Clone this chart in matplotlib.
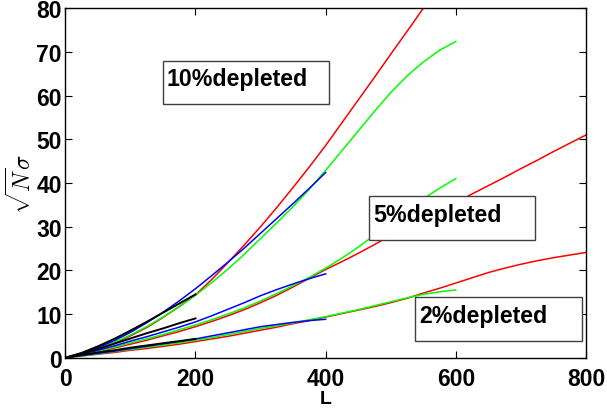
import matplotlib

matplotlib.use("Agg")
import matplotlib.pyplot as plt
from matplotlib.patches import Rectangle

plt.rcParams["font.family"] = ["Liberation Sans", "DejaVu Sans"]
plt.rcParams["mathtext.fontset"] = "cm"

# system size L, sampled every 25
L = list(range(0, 801, 25))

# 10% depleted
red_10 = [0, 0.8, 1.9, 3.3, 5.0, 6.9, 9.2, 11.7, 14.4, 17.9, 21.8, 25.8, 30.0,
          34.4, 39.0, 43.7, 48.6, 53.8, 59.0, 64.2, 69.5, 74.7, 80.0]
green_10 = [0, 0.8, 2.0, 3.5, 5.2, 7.1, 9.3, 11.7, 14.3, 17.2, 20.3, 23.7, 27.3,
            30.9, 34.6, 38.6, 42.9, 47.4, 51.9, 56.4, 60.7, 64.5, 67.7, 70.4, 72.4]
blue_10 = [0, 1.0, 2.3, 3.9, 5.8, 8.0, 10.4, 13.0, 15.8, 18.8, 21.9, 25.1, 28.5,
           31.9, 35.3, 38.8, 42.4]
black_10 = [0, 1.1, 2.6, 4.3, 6.2, 8.2, 10.3, 12.4, 14.5]

# 5% depleted
red_5 = [0, 0.6, 1.3, 2.2, 3.1, 4.0, 5.0, 6.0, 7.1, 8.3, 9.6, 11.0, 12.6, 14.3,
         16.2, 18.2, 20.2, 22.0, 23.9, 25.9, 28.0, 29.9, 31.8, 33.6, 35.5, 37.5,
         39.4, 41.3, 43.3, 45.2, 47.2, 49.1, 51.0]
green_5 = [0, 0.7, 1.5, 2.4, 3.4, 4.3, 5.3, 6.4, 7.5, 8.7, 10.0, 11.4, 13.0, 14.7,
           16.5, 18.4, 20.5, 22.8, 25.3, 28.1, 31.0, 33.8, 36.4, 38.8, 41.0]
blue_5 = [0, 0.8, 1.7, 2.7, 3.8, 4.8, 5.9, 7.0, 8.2, 9.6, 11.1, 12.6, 14.2, 15.6,
          16.9, 18.1, 19.2]
black_5 = [0, 0.9, 2.0, 3.2, 4.4, 5.6, 6.7, 7.9, 9.0]

# 2% depleted
red_2 = [0, 0.4, 0.8, 1.2, 1.7, 2.1, 2.6, 3.1, 3.7, 4.3, 4.9, 5.6, 6.3, 7.0, 7.8,
         8.5, 9.3, 10.1, 10.9, 11.7, 12.6, 13.6, 14.8, 15.9, 17.1, 18.3, 19.5,
         20.5, 21.4, 22.2, 22.9, 23.5, 24.1]
green_2 = [0, 0.4, 0.9, 1.4, 1.9, 2.4, 2.9, 3.4, 4.0, 4.6, 5.3, 6.0, 6.7, 7.3, 8.0,
           8.7, 9.4, 10.2, 11.0, 11.9, 12.8, 13.7, 14.5, 15.1, 15.5]
blue_2 = [0, 0.5, 1.0, 1.5, 2.1, 2.6, 3.2, 3.7, 4.3, 5.0, 5.7, 6.4, 7.1, 7.6, 8.1,
          8.5, 8.8]
black_2 = [0, 0.6, 1.2, 1.7, 2.3, 2.8, 3.3, 3.8, 4.3]

labels = ["10%depleted", "5%depleted", "2%depleted"]
# label boxes (x0, y0, x1, y1) in data units, and text anchor
boxes = [(150.6, 58.0, 405.6, 68.0), (467.0, 26.9, 721.6, 37.1), (537.3, 3.8, 793.4, 14.0)]
text_pos = [(155.8, 62.4), (473.2, 31.4), (543.9, 8.1)]

groups = [
    (red_10, green_10, blue_10, black_10),
    (red_5, green_5, blue_5, black_5),
    (red_2, green_2, blue_2, black_2),
]
colors = ["#ff0000", "#00ff00", "#0000ff", "#000000"]


def main():
    fig = plt.figure(figsize=(6.07, 4.10), dpi=100)
    ax = fig.add_axes([0.1076, 0.1251, 0.8578, 0.8522])

    for series in groups:
        for ys, c in zip(series, colors):
            lw = 1.4 if c == "#000000" else 1.1
            ax.plot(L[: len(ys)], ys, color=c, lw=lw)

    for (x0, y0, x1, y1), (tx, ty), lab in zip(boxes, text_pos, labels):
        ax.add_patch(Rectangle((x0, y0), x1 - x0, y1 - y0, facecolor="white",
                               edgecolor="0.25", lw=1.0, zorder=5))
        ax.text(tx, ty, lab, fontsize=16.7, fontweight="bold", ha="left",
                va="baseline", zorder=6)

    ax.set_xlim(0, 800)
    ax.set_ylim(0, 80)
    ax.set_xticks([0, 200, 400, 600, 800])
    ax.set_yticks(range(0, 81, 10))
    ax.tick_params(direction="in", length=5, width=0.8, top=True, right=True,
                   labelsize=16.5)
    ax.tick_params(axis="x", pad=6.5)
    ax.tick_params(axis="y", pad=2.5)
    for t in ax.get_xticklabels() + ax.get_yticklabels():
        t.set_fontweight("bold")
    for s in ax.spines.values():
        s.set_linewidth(1.0)

    ax.set_xlabel("L", fontsize=14, fontweight="bold", labelpad=0)
    ax.set_ylabel(r"$\sqrt{N}\sigma$", fontsize=17, labelpad=0)

    fig.savefig("out.png", dpi=100)
    plt.close(fig)


if __name__ == "__main__":
    main()
